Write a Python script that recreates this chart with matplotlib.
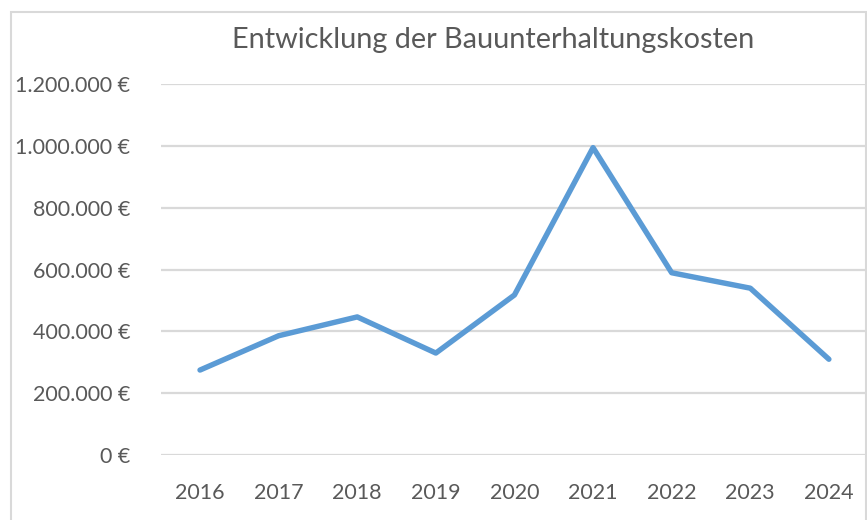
import matplotlib
matplotlib.use("Agg")
import matplotlib.pyplot as plt
from matplotlib.patches import Rectangle
from matplotlib.ticker import FuncFormatter

jahre = ["2016", "2017", "2018", "2019", "2020", "2021", "2022", "2023", "2024"]
kosten = [275000, 386000, 447000, 330000, 518000, 995000, 590000, 540000, 310000]
y_ticks = [0, 200000, 400000, 600000, 800000, 1000000, 1200000]

plt.rcParams['font.family'] = ['Lato', 'DejaVu Sans']
textfarbe = "#595959"

def euro(v, pos):
    return f"{int(v):,} €".replace(",", ".")

fig = plt.figure(figsize=(8.67, 5.2), dpi=100)
ax = fig.add_axes([160.7/867, 1-455/520, 707.5/867, (455-84.3)/520])

ax.plot(range(len(jahre)), kosten, color="#5B9BD5", lw=3.9, solid_joinstyle="round", solid_capstyle="round")

ax.set_xlim(-0.5, len(jahre)-0.5)
ax.set_ylim(0, 1200000)
ax.set_yticks(y_ticks)
ax.yaxis.set_major_formatter(FuncFormatter(euro))
ax.set_xticks(range(len(jahre)))
ax.set_xticklabels(jahre)
ax.grid(axis="y", color="#D9D9D9", lw=1.6)
ax.set_axisbelow(True)
for s in ax.spines.values():
    s.set_visible(False)
ax.tick_params(axis="both", length=0, labelsize=15.5, colors=textfarbe)
ax.tick_params(axis="y", pad=22)
ax.tick_params(axis="x", pad=20)

fig.text(493.5/867, 1-40/520, "Entwicklung der Bauunterhaltungskosten", ha="center", va="center",
         fontsize=20.8, color=textfarbe)

# Rahmen um das Diagramm
fig.patches.append(Rectangle((10.5/867, -0.05), 855.5/867, 1.05-12/520, transform=fig.transFigure,
                             fill=False, edgecolor="#D9D9D9", lw=1.5))

fig.savefig("out.png", dpi=100)
